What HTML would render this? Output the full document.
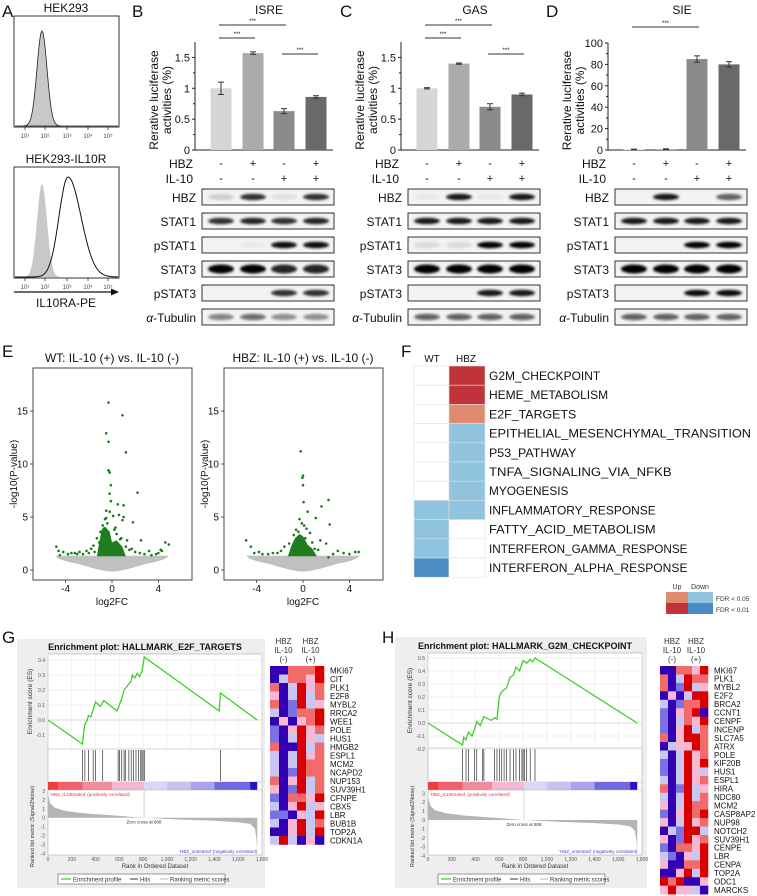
<!DOCTYPE html>
<html><head><meta charset="utf-8">
<style>
html,body{margin:0;padding:0;background:#fff;}
svg{display:block;font-family:"Liberation Sans",Arial,sans-serif;}
</style></head>
<body>
<svg id="fig" width="757" height="896" viewBox="0 0 757 896" xmlns="http://www.w3.org/2000/svg">
<defs>
<filter id="blur" x="-30%" y="-100%" width="160%" height="300%"><feGaussianBlur stdDeviation="1.3"/></filter>
</defs>
</svg>
<script>
// ---------- Panel B/C/D luciferase data ----------
const lucTitles = ["ISRE","GAS","SIE"];
const isreVals = [1.0, 1.57, 0.63, 0.86];
const isreErrs = [0.1, 0.02, 0.04, 0.02];
const gasVals = [1.0, 1.4, 0.7, 0.9];
const gasErrs = [0.01, 0.01, 0.05, 0.02];
const sieVals = [0.5, 0.8, 85, 80];
const sieErrs = [0.3, 0.3, 3, 2.5];
const isreTicks = [0, 0.5, 1, 1.5];
const gasTicks = [0, 0.5, 1, 1.5];
const sieTicks = [0, 20, 40, 60, 80, 100];
const hbzSigns = ["-","+","-","+"];
const il10Signs = ["-","-","+","+"];
const blotLabels = ["HBZ","STAT1","pSTAT1","STAT3","pSTAT3","Tubulin"];
const blotB = [[0.15,0.8,0.08,0.8],[0.8,0.85,0.8,0.85],[0,0.04,0.95,0.95],[1,1,0.85,0.85],[0,0,0.8,0.8],[0.45,0.55,0.4,0.4]];
const blotC = [[0.05,0.9,0.05,0.9],[0.9,0.9,0.9,0.9],[0.1,0.1,1,1],[1,1,1,1],[0,0,0.9,0.9],[0.6,0.6,0.6,0.6]];
const blotD = [[0,0.9,0,0.6],[0.9,0.9,0.9,0.9],[0,0,1,1],[1,1,1,1],[0,0,0.95,0.95],[0.6,0.6,0.6,0.6]];

// ---------- Panel E volcano data ----------
const wtFC = [-0.3,0.9,-0.5,-0.3,1.2,-0.3,-0.2,-0.1,2.2,-0.2,-0.1,0.5,1.0,-0.5,-0.2,0.1,0.6,1.0,0.9,-0.6,1.8,-1.0,-1.3,2.5,4.6,-4.8,3.2,4.3,-3.5,-4.5,-2.5,-2.0,-1.5,1.5,2.0,3.8,4.2,-3.0,-0.8,-0.4,0.3,-0.7,0.2,-1.1,0.7,-0.9,-4.6,-4.2,-3.8,-3.2,-2.8,-2.2,-1.8,1.2,1.7,2.4,2.8,3.4,4.0,4.9,-0.5,0.4,0.8,1.3,-1.6];
const wtP  = [15.8,14.6,12.9,12.1,11.1,9.4,9.2,8.0,7.3,7.2,6.5,6.2,6.1,5.6,5.5,5.1,5.2,5.0,4.7,4.8,4.5,3.6,3.0,2.8,2.6,2.2,1.8,1.8,1.6,1.4,1.5,1.6,1.7,1.9,1.7,1.5,1.9,1.5,4.2,4.4,4.0,3.9,3.8,2.6,2.9,2.4,1.8,1.7,1.5,1.6,1.7,1.8,2.0,2.2,2.0,1.6,1.5,1.4,1.6,2.4,4.9,3.4,3.0,2.8,2.3];
const hbzFC = [-0.2,0.0,-0.05,0.0,0.05,2.2,1.6,0.4,1.1,2.3,-0.3,0.1,-0.6,-0.8,0.6,-4.9,-4.5,-3.8,-3.0,-2.2,1.5,2.0,3.0,4.5,4.0,2.2,-1.6,-0.1,0.3,-1.2,-4.2,-3.5,-2.6,-1.9,1.0,1.3,2.6,3.5,4.8,-0.4,0.2,0.8];
const hbzP  = [11.2,8.9,8.7,8.0,6.4,6.6,6.0,5.5,4.9,4.3,4.8,4.2,3.8,3.3,3.5,2.8,2.2,1.7,1.5,1.6,2.8,2.5,1.8,1.7,1.5,1.2,2.2,4.4,3.9,2.5,1.6,1.5,1.6,1.8,2.0,1.9,1.5,1.6,1.7,3.6,3.0,2.6];
const volcanoXTicks = [-4, 0, 4];
const volcanoYTicks = [0, 5, 10, 15];

// ---------- Panel F ----------
const pathways = ["G2M_CHECKPOINT","HEME_METABOLISM","E2F_TARGETS","EPITHELIAL_MESENCHYMAL_TRANSITION","P53_PATHWAY","TNFA_SIGNALING_VIA_NFKB","MYOGENESIS","INFLAMMATORY_RESPONSE","FATTY_ACID_METABOLISM","INTERFERON_GAMMA_RESPONSE","INTERFERON_ALPHA_RESPONSE"];
const wtCodes  = [0,0,0,0,0,0,0,-1,-1,-1,-2];
const hbzCodes = [2,2,1,-1,-1,-1,-1,-1,0,0,0];

// ---------- Panel G/H GSEA ----------
const e2fRank = [0,290,300,310,330,340,360,380,400,440,470,580,600,620,640,660,680,700,710,730,750,770,790,810,1440,1450,1760];
const e2fES   = [0,-0.16,-0.08,-0.03,0.0,0.03,0.02,0.07,0.12,0.09,0.13,0.06,0.10,0.14,0.20,0.22,0.24,0.26,0.30,0.28,0.31,0.29,0.32,0.42,0.06,0.18,0];
const e2fHits = [290,310,340,380,400,460,590,600,620,640,650,680,700,720,740,760,780,790,800,810,1450];
const g2mRank = [0,290,300,320,340,370,390,410,440,470,530,560,580,600,620,660,690,720,740,770,800,830,860,880,900,1760];
const g2mES   = [0,-0.17,-0.11,-0.13,-0.07,-0.10,-0.05,0.01,-0.02,0.05,0.02,0.04,0.03,0.20,0.24,0.27,0.35,0.37,0.43,0.40,0.48,0.46,0.49,0.47,0.50,0];
const g2mHits = [290,320,340,390,410,460,470,560,580,600,620,640,660,690,720,740,770,790,800,810,830,860,900];
const metricRank = [0,20,60,150,300,500,808,1100,1400,1600,1700,1740,1755,1760];
const metricVal  = [2.6,1.6,1.1,0.75,0.5,0.3,0,-0.2,-0.35,-0.5,-0.7,-1.2,-2.5,-4];
const rankTicks = [0,200,400,600,800,1000,1200,1400,1600,1800];
const rankTickLabels = ["0","200","400","600","800","1,000","1,200","1,400","1,600","1,800"];
const e2fTicks = [-0.1,0.0,0.1,0.2,0.3,0.4];
const g2mTicks = [-0.2,-0.1,0.0,0.1,0.2,0.3,0.4,0.5];
const metricTicks = [3,2,1,0,-1,-2,-3,-4];

// heatmaps: B deep blue, m mid blue, b light blue, p pink, l light red, r red
const e2fGenes = ["MKI67","CIT","PLK1","E2F8","MYBL2","RRCA2","WEE1","POLE","HUS1","HMGB2","ESPL1","MCM2","NCAPD2","NUP153","SUV39H1","CFNPE","CBX5","LBR","BUB1B","TOP2A","CDKN1A"];
const e2fHeat = ["BBlllr","Bbllpr","lBbrpl","pBbrbl","lBmrbp","bBmllr","BpBplr","mBprpl","mBbrpb","lBBrbl","bBbrpl","bBbrll","bBmrll","lBprbl","pBmrbl","mBllpr","bBprbp","mmBpbr","bBprbl","BBprbr","brbBpB"];
const g2mGenes = ["MKI67","PLK1","MYBL2","E2F2","BRCA2","CCNT1","CENPF","INCENP","SLC7A5","ATRX","POLE","KIF20B","HUS1","ESPL1","HIRA","NDC80","MCM2","CASP8AP2","NUP98","NOTCH2","SUV39H1","CENPE","LBR","CENPA","TOP2A","ODC1","MARCKS"];
const g2mHeat = ["BBllpr","lBbrll","lBmrbp","BpBbrr","bBmllr","mBplrB","mBblpr","mBprbl","lBprrl","Bbpprl","bBbrpl","mBbrpr","mBbrpb","bBbrpl","lBmrbp","bBbrbl","pBbrll","mBprlr","pBbrpl","Bbmrrb","pBmrpl","mBllpr","bmBpbr","pBBllr","BBprbr","rlrBBp","prppbB"];

const NS = "http://www.w3.org/2000/svg";
const svg = document.getElementById('fig');
function mk(tag, attrs, name, parent){
  const e = document.createElementNS(NS, tag);
  for (const k in attrs) e.setAttribute(k, attrs[k]);
  
  
  (parent || svg).appendChild(e);
  return e;
}
function tx(x, y, s, size, name, extra){
  const a = Object.assign({x:x, y:y, 'font-size':size, fill:'#111'}, extra||{});
  const t = mk('text', a, name);
  t.textContent = s;
  return t;
}
function line(x1,y1,x2,y2,stroke,w,name,extra){
  return mk('line', Object.assign({x1:x1,y1:y1,x2:x2,y2:y2,stroke:stroke,'stroke-width':w}, extra||{}), name);
}
function poly(pts,attrs,name){ return mk('polyline', Object.assign({points:pts.map(p=>p[0].toFixed(1)+','+p[1].toFixed(1)).join(' '), fill:'none'}, attrs), name); }

// ---------- Panel letters ----------
[["A",2,17],["B",132,17],["C",340,17],["D",546,17],["E",2,357],["F",401,357],["G",2,643],["H",382,643]].forEach(l=>{
  tx(l[1], l[2], l[0], 17, 'panel-label-'+l[0].toLowerCase());
});

// ---------- Panel A flow histograms ----------
function gauss(c, s, h, x0, x1, base){
  const pts=[];
  for (let x=x0; x<=x1; x+=1){ pts.push([x, base - h*Math.exp(-Math.pow((x-c)/s,2)/2)]); }
  return pts;
}
function flowBox(y0, title, name){
  tx(66, y0-4, title, 12, name+'-title', {'text-anchor':'middle'});
  mk('rect',{x:14,y:y0,width:105,height:111,fill:'none',stroke:'#333','stroke-width':1},name+'-frame');
  const tl=[["10¹",25],["10²",45],["10³",67],["10⁴",88],["10⁵",108]];
  tl.forEach(t=>{
    line(t[1],y0+111,t[1],y0+114,'#333',0.8,name+'-tick');
    tx(t[1],y0+122,t[0],6,name+'-tick-label',{'text-anchor':'middle',fill:'#444'});
  });
}
flowBox(16,"HEK293","flow-hek293");
flowBox(167,"HEK293-IL10R","flow-hek293-il10r");
{
  const p1 = gauss(42,5,95,15,118,126);
  mk('path',{d:'M15,126 '+p1.map(p=>'L'+p[0]+','+p[1].toFixed(1)).join(' ')+' L118,126 Z',fill:'#c8c8c8',stroke:'#222','stroke-width':0.8},'flow-hek293-histogram');
  const p2 = gauss(42,5,93,15,118,277);
  mk('path',{d:'M15,277 '+p2.map(p=>'L'+p[0]+','+p[1].toFixed(1)).join(' ')+' L118,277 Z',fill:'#c8c8c8',stroke:'none'},'flow-isotype-histogram');
  const p3=[];
  for(let x=15;x<=118;x++){ const c=68; const s = x<c?9:13; p3.push([x, 277-100*Math.exp(-Math.pow((x-c)/s,2)/2)]); }
  poly(p3,{stroke:'#111','stroke-width':1},'flow-il10ra-histogram');
  line(14,292,112,292,'#111',1.2,'flow-x-arrow');
  mk('path',{d:'M119,292 L111,288.5 L111,295.5 Z',fill:'#111'},'flow-x-arrowhead');
  tx(66,307,"IL10RA-PE",12,'flow-x-axis-title',{'text-anchor':'middle'});
}

// ---------- Panels B,C,D ----------
function lucPanel(ox, title, vals, errs, yMax, yTopPx, ticks, blot, sigs, key){
  const ax = 195+ox, yb = 150;
  const ys = v => yb - v/yMax*(yb-yTopPx);
  tx(ax+74, 14, title, 12, key+'-title', {'text-anchor':'middle'});
  line(ax, yTopPx, ax, yb, '#222', 1, key+'-y-axis');
  line(ax, yb, ax+138, yb, '#222', 1, key+'-x-axis');
  ticks.forEach((t,i)=>{
    line(ax-3, ys(t), ax, ys(t), '#222', 1, key+'-y-tick');
    tx(ax-5, ys(t)+4, String(t), 11, key+'-y-tick-label', {'text-anchor':'end'});
    if(i<ticks.length-1){ const m=(t+ticks[i+1])/2; line(ax-2, ys(m), ax, ys(m), '#222', 1, key+'-y-minor-tick'); }
  });
  tx(0,0,"Rerative luciferase",12,key+'-y-axis-title',{'text-anchor':'middle',transform:'translate('+(ax-37)+','+((yb+yTopPx)/2+4)+') rotate(-90)'});
  tx(0,0,"activities (%)",12,key+'-y-axis-title-line2',{'text-anchor':'middle',transform:'translate('+(ax-24)+','+((yb+yTopPx)/2+4)+') rotate(-90)'});
  const cols=['#d6d6d6','#ababab','#8b8b8b','#696969'];
  const cx=[26,58,89,121].map(d=>ax+d);
  vals.forEach((v,i)=>{
    mk('rect',{x:cx[i]-10.5,y:ys(v),width:21,height:yb-ys(v),fill:cols[i]},key+'-bar-'+(i+1));
    const e1=ys(v+errs[i]), e0=ys(v-errs[i]);
    line(cx[i],e1,cx[i],e0,'#333',1,key+'-error-bar');
    line(cx[i]-3,e1,cx[i]+3,e1,'#333',1,key+'-error-cap');
    line(cx[i]-3,e0,cx[i]+3,e0,'#333',1,key+'-error-cap');
  });
  sigs.forEach(s=>{
    line(cx[s[0]]-2,s[2],cx[s[1]]+2,s[2],'#333',1,key+'-significance-line');
    tx((cx[s[0]]+cx[s[1]])/2, s[2]-2, "***", 6, key+'-significance-stars', {'text-anchor':'middle'});
  });
  tx(ax-2,168,"HBZ",12,key+'-hbz-label',{'text-anchor':'end'});
  tx(ax-2,183,"IL-10",12,key+'-il10-label',{'text-anchor':'end'});
  hbzSigns.forEach((s,i)=>tx(cx[i],167,s,11,key+'-hbz-sign',{'text-anchor':'middle'}));
  il10Signs.forEach((s,i)=>tx(cx[i],182,s,11,key+'-il10-sign',{'text-anchor':'middle'}));
  const rowY=[189,213,237,261,285,309];
  blot.forEach((row,r)=>{
    const bn = key+'-blot-'+blotLabels[r].toLowerCase();
    mk('rect',{x:ax+7,y:rowY[r],width:132,height:16,fill:'#f3f3f3',stroke:'#333','stroke-width':1},bn);
    row.forEach((v,i)=>{
      if(v>0) mk('ellipse',{cx:cx[i],cy:rowY[r]+8,rx:13,ry:r===3?4.5:3.2,fill:'#000','fill-opacity':v,filter:'url(#blur)'},bn+'-band');
    });
    if(r===5){
      const t=tx(ax+1,rowY[r]+13,"",12,key+'-blot-label-tubulin',{'text-anchor':'end'});
      const a=document.createElementNS(NS,'tspan'); a.setAttribute('font-style','italic'); a.textContent='α'; t.appendChild(a);
      const b=document.createElementNS(NS,'tspan'); b.textContent='-Tubulin'; t.appendChild(b);
    } else {
      tx(ax+1,rowY[r]+13,blotLabels[r],12,key+'-blot-label-'+blotLabels[r].toLowerCase(),{'text-anchor':'end'});
    }
  });
}
lucPanel(0,lucTitles[0],isreVals,isreErrs,1.75,42,isreTicks,blotB,[[0,2,25],[0,1,38],[2,3,54]],'isre');
lucPanel(206,lucTitles[1],gasVals,gasErrs,1.75,42,gasTicks,blotC,[[0,2,25],[0,1,38],[2,3,54]],'gas');
lucPanel(413,lucTitles[2],sieVals,sieErrs,100,43,sieTicks,blotD,[[0,2,27]],'sie');

// ---------- Panel E volcano ----------
function volcano(x0, zeroX, title, fc, p, key, dense){
  const xs = v => zeroX + v*11.6, ys = v => 570 - v*10.6;
  tx(zeroX, 362, title, 12, key+'-title', {'text-anchor':'middle'});
  mk('rect',{x:x0,y:368,width:159,height:212,fill:'#fff',stroke:'#444','stroke-width':1},key+'-frame');
  mk('path',{d:'M'+xs(-4.9)+','+ys(1.35)+' L'+xs(4.9)+','+ys(1.35)+' Q'+xs(4.6)+','+ys(0.9)+' '+xs(3)+','+ys(0.6)+' Q'+xs(0.8)+','+ys(-0.15)+' '+xs(0)+','+ys(-0.15)+' Q'+xs(-0.8)+','+ys(-0.15)+' '+xs(-3)+','+ys(0.6)+' Q'+xs(-4.6)+','+ys(0.9)+' '+xs(-4.9)+','+ys(1.35)+' Z',fill:'#c0c0c0'},key+'-nonsignificant-points');
  mk('path',{d:'M'+dense.map(d=>xs(d[0]).toFixed(1)+','+ys(d[1]).toFixed(1)).join(' L')+' Z',fill:'#1f7d1f'},key+'-dense-significant-points');
  fc.forEach((v,i)=>{
    mk('circle',{cx:xs(v),cy:ys(p[i]),r:1.3,fill:'#1a7a1a'},key+'-significant-point');
  });
  volcanoXTicks.forEach(t=>{
    line(xs(t),580,xs(t),583,'#333',0.8,key+'-x-tick');
    tx(xs(t),592,String(t),10,key+'-x-tick-label',{'text-anchor':'middle'});
  });
  volcanoYTicks.forEach(t=>{
    line(x0-3,ys(t),x0,ys(t),'#333',0.8,key+'-y-tick');
    tx(x0-5,ys(t)+3.5,String(t),10,key+'-y-tick-label',{'text-anchor':'end'});
  });
  tx(zeroX,605,"log2FC",10,key+'-x-axis-title',{'text-anchor':'middle'});
  tx(0,0,"-log10(P-value)",10,key+'-y-axis-title',{'text-anchor':'middle',transform:'translate('+(x0-16)+',474) rotate(-90)'});
}
volcano(33,112,"WT: IL-10 (+) vs. IL-10 (-)",wtFC,wtP,'volcano-wt',[[-1.3,1.3],[-1.1,2.6],[-0.9,3.8],[-0.6,4.1],[-0.2,3.6],[0,2.6],[0.4,2.8],[0.9,2.2],[1.2,1.3]]);
volcano(224,303,"HBZ: IL-10 (+) vs. IL-10 (-)",hbzFC,hbzP,'volcano-hbz',[[-1.3,1.3],[-1.0,2.3],[-0.7,3.0],[-0.3,3.4],[0.0,3.2],[0.4,2.4],[0.8,2.0],[1.2,1.3]]);

// ---------- Panel F ----------
{
  const fcol = c => ({'2':'#c0333a','1':'#e08a6e','0':'#ffffff','-1':'#8fc3de','-2':'#4a8cc4'})[String(c)];
  tx(432,362,"WT",10,'gsea-summary-wt-header',{'text-anchor':'middle'});
  tx(466,362,"HBZ",10,'gsea-summary-hbz-header',{'text-anchor':'middle'});
  const rh = 19.2;
  pathways.forEach((pw,i)=>{
    const y = 366 + i*rh;
    mk('rect',{x:414,y:y,width:35,height:rh,fill:fcol(wtCodes[i]),stroke:'#e2e2e2','stroke-width':0.6},'gsea-summary-cell-wt');
    mk('rect',{x:449,y:y,width:36,height:rh,fill:fcol(hbzCodes[i]),stroke:'#e2e2e2','stroke-width':0.6},'gsea-summary-cell-hbz');
    tx(489,y+14,pw,12,'pathway-label',{textLength:(pw.length*7.94).toFixed(1),lengthAdjust:'spacingAndGlyphs'});
  });
  tx(677,589,"Up",7,'legend-up-label',{'text-anchor':'middle',fill:'#333'});
  tx(700,589,"Down",7,'legend-down-label',{'text-anchor':'middle',fill:'#333'});
  mk('rect',{x:666,y:592,width:22,height:11,fill:'#e08a6e'},'legend-up-fdr05');
  mk('rect',{x:688,y:592,width:25,height:11,fill:'#8fc3de'},'legend-down-fdr05');
  mk('rect',{x:666,y:603,width:22,height:11,fill:'#c0333a'},'legend-up-fdr01');
  mk('rect',{x:688,y:603,width:25,height:11,fill:'#4a8cc4'},'legend-down-fdr01');
  tx(716,601,"FDR < 0.05",6.5,'legend-fdr05-label',{fill:'#333'});
  tx(716,612,"FDR < 0.01",6.5,'legend-fdr01-label',{fill:'#333'});
}

// ---------- Panels G/H GSEA ----------
function gsea(c, title, rank, es, hits, esTicks, key){
  mk('rect',{x:c.bx,y:c.by,width:c.bw,height:c.bh,fill:'#eeeeee'},key+'-background');
  const xr = r => c.x0 + r/1800*(c.x1-c.x0);
  const ye = v => c.ez - v*c.es;
  const ym = v => c.mz - v*8.9;
  tx((c.bx+c.bw/2)+4, c.et-4, title, 9, key+'-title', {'text-anchor':'middle','font-weight':'bold'});
  mk('rect',{x:c.x0,y:c.et,width:c.x1-c.x0,height:c.mb-c.et,fill:'#fff',stroke:'#aaa','stroke-width':0.6},key+'-plot-area');
  rankTicks.forEach(t=>line(xr(t),c.et,xr(t),c.eb,'#e6e6e6',0.5,key+'-grid-x'));
  esTicks.forEach(t=>{
    line(c.x0,ye(t),c.x1,ye(t),t===0?'#bbb':'#e6e6e6',0.6,key+'-grid-y');
    tx(c.x0-3,ye(t)+2,t.toFixed(1),5,key+'-es-tick-label',{'text-anchor':'end',fill:'#555'});
  });
  line(c.x0,c.eb,c.x1,c.eb,'#aaa',0.6,key+'-es-bottom');
  poly(rank.map((r,i)=>[xr(r),ye(es[i])]),{stroke:'#3ecf2a','stroke-width':1.3},key+'-enrichment-line');
  hits.forEach(h=>line(xr(h),c.eb+1,xr(h),c.cb-1,'#333',0.7,key+'-hit'));
  const segR=[0,90,290,540,808,1000,1200,1400,1700,1760];
  const segC=['#f03c3c','#f0606a','#f28a9a','#f5b8d4','#ddd6f4','#c8c2f0','#a9a2ec','#6f68e0','#2a10c4'];
  line(c.x0,c.cb,c.x1,c.cb,'#aaa',0.5,key+'-colorbar-top');
  for(let i=0;i<segC.length;i++) mk('rect',{x:xr(segR[i]),y:c.cb,width:xr(segR[i+1])-xr(segR[i]),height:8,fill:segC[i]},key+'-colorbar-segment');
  line(c.x0,c.cb+8,c.x1,c.cb+8,'#aaa',0.5,key+'-metric-top');
  const pts = metricRank.map((r,i)=>xr(r).toFixed(1)+','+ym(metricVal[i]).toFixed(1)).join(' L');
  mk('path',{d:'M'+xr(0)+','+ym(0)+' L'+pts+' L'+xr(1760)+','+ym(0)+' Z',fill:'#b4b4b4'},key+'-ranked-metric');
  line(xr(808),ym(0),xr(808),c.cb+8,'#aaa',0.5,key+'-zero-cross-line');
  metricTicks.forEach(t=>tx(c.x0-3,ym(t)+2,String(t),5,key+'-metric-tick-label',{'text-anchor':'end',fill:'#555'}));
  tx(c.x0+2,c.cb+14,"'HBZ_IL10treated' (positively correlated)",4.5,key+'-pos-label',{fill:'#e33'});
  tx(xr(808),ym(0)+6,"Zero cross at 808",4.5,key+'-zero-cross-label',{'text-anchor':'middle',fill:'#333'});
  tx(xr(1760),c.mb-2,"'HBZ_untreated' (negatively correlated)",4.5,key+'-neg-label',{'text-anchor':'end',fill:'#44c'});
  rankTicks.forEach((t,i)=>tx(xr(t),c.mb+6,rankTickLabels[i],5,key+'-rank-tick-label',{'text-anchor':'middle',fill:'#555'}));
  tx((c.x0+c.x1)/2,c.mb+13,"Rank in Ordered Dataset",6,key+'-x-axis-title',{'text-anchor':'middle',fill:'#333'});
  tx(0,0,"Enrichment score (ES)",6.5,key+'-es-axis-title',{'text-anchor':'middle',fill:'#333',transform:'translate('+(c.x0-16)+','+((c.et+c.eb)/2)+') rotate(-90)'});
  tx(0,0,"Ranked list metric (Signal2Noise)",5.5,key+'-metric-axis-title',{'text-anchor':'middle',fill:'#333',transform:'translate('+(c.x0-14)+','+(c.cb+8+(c.mb-c.cb)/2)+') rotate(-90)'});
  const lx=c.x0+10, ly=c.mb+19;
  mk('rect',{x:lx,y:ly,width:167,height:10,fill:'#fff',stroke:'#555','stroke-width':0.6},key+'-legend');
  line(lx+3,ly+5,lx+13,ly+5,'#3ecf2a',1.2,key+'-legend-es-swatch');
  tx(lx+15,ly+7.5,"Enrichment profile",6,key+'-legend-es-label',{fill:'#333'});
  line(lx+72,ly+5,lx+80,ly+5,'#333',1,key+'-legend-hits-swatch');
  tx(lx+82,ly+7.5,"Hits",6,key+'-legend-hits-label',{fill:'#333'});
  line(lx+102,ly+5,lx+110,ly+5,'#bbb',1,key+'-legend-metric-swatch');
  tx(lx+112,ly+7.5,"Ranking metric scores",6,key+'-legend-metric-label',{fill:'#333'});
}
gsea({bx:17,by:639,bw:248,bh:249,x0:48,x1:262,ez:720,es:150,et:654,eb:749,cb:782,mz:817.7,mb:855},"Enrichment plot: HALLMARK_E2F_TARGETS",e2fRank,e2fES,e2fHits,e2fTicks,'gsea-e2f');
gsea({bx:395,by:637,bw:252,bh:251,x0:428,x1:642,ez:723,es:130,et:653,eb:748,cb:782,mz:820,mb:855},"Enrichment plot: HALLMARK_G2M_CHECKPOINT",g2mRank,g2mES,g2mHits,g2mTicks,'gsea-g2m');

// ---------- Heatmaps ----------
function heat(x0, y0, cw, rh, rows, genes, key){
  const col = {B:'#3300b4',m:'#7a72e2',b:'#c8c6f2',p:'#f6b8d2',l:'#f26a6a',r:'#d80000'};
  [["HBZ",0],["IL-10",9],["(-)",18]].forEach(h=>tx(x0+cw*1.5,y0-22+h[1],h[0],8,key+'-header-minus',{'text-anchor':'middle',fill:'#333'}));
  [["HBZ",0],["IL-10",9],["(+)",18]].forEach(h=>tx(x0+cw*4.5,y0-22+h[1],h[0],8,key+'-header-plus',{'text-anchor':'middle',fill:'#333'}));
  rows.forEach((r,i)=>{
    for(let j=0;j<6;j++) mk('rect',{x:x0+j*cw,y:y0+i*rh,width:cw+0.3,height:rh+0.3,fill:col[r[j]]},key+'-cell');
    tx(x0+6*cw+6,y0+i*rh+rh-1.2,genes[i],8,key+'-gene-label',{fill:'#111'});
  });
}
heat(270,666,9,8.5,e2fHeat,e2fGenes,'heatmap-e2f');
heat(660,666,8,8.45,g2mHeat,g2mGenes,'heatmap-g2m');
</script>
</body></html>
